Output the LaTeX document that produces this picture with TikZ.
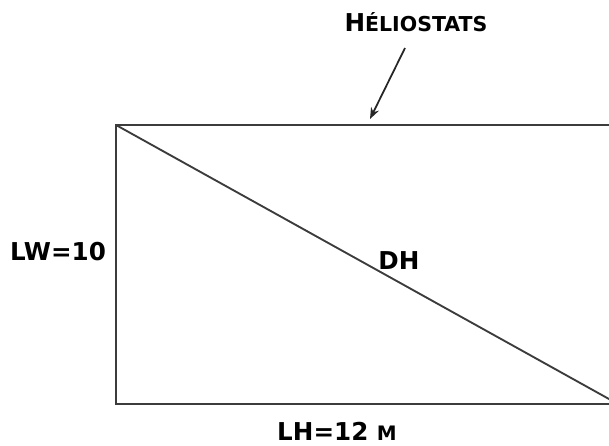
\documentclass[tikz,border=0pt]{standalone}
\usepackage{fontspec}
\setmainfont{DejaVu Sans}
\usepackage{tikz}
\usetikzlibrary{arrows.meta, positioning}
\definecolor{edgegray}{RGB}{60,60,60}
\tikzset{
  plot/.style={draw=edgegray, line width=2.3pt},
  diag/.style={draw=edgegray, line width=1.6pt},
  dimlabel/.style={font=\fontsize{21}{24}\selectfont\bfseries, inner sep=0pt},
  smalllabel/.style={font=\fontsize{21}{24}\selectfont\bfseries, inner sep=0pt},
  arr/.style={-{Stealth[length=3.4mm, width=2.6mm]}, line width=1.5pt, black!85},
}

\begin{document}
\begin{tikzpicture}[x=0.03cm, y=-0.03cm]

\useasboundingbox (0,0) rectangle (609,446);
\clip (0,0) rectangle (609,446);

% ── Field corners ──
\coordinate (tl) at (116,125);
\coordinate (tr) at (618,125);
\coordinate (br) at (618,404);
\coordinate (bl) at (116,404);

% ── Field outline and diagonal ──
\draw[plot] (tl) -- (tr) -- (br) -- (bl) -- cycle;
\draw[diag] (tl) -- (br);

% ── Labels ──
\node[smalllabel] (helio) at (416,22) {H{\fontsize{17.5}{20}\selectfont ÉLIOSTATS}};
\node[dimlabel] (lw) at (58,252) {LW=10};
\node[dimlabel] (dh) at (399,261) {DH};
\node[dimlabel] (lh) at (337,431) {LH=12 {\fontsize{17}{19}\selectfont M}};

% ── Pointer ──
\coordinate (ptail) at (405,48);
\coordinate (phead) at (370,119);
\draw[arr] (ptail) -- (phead);

\end{tikzpicture}
\end{document}
